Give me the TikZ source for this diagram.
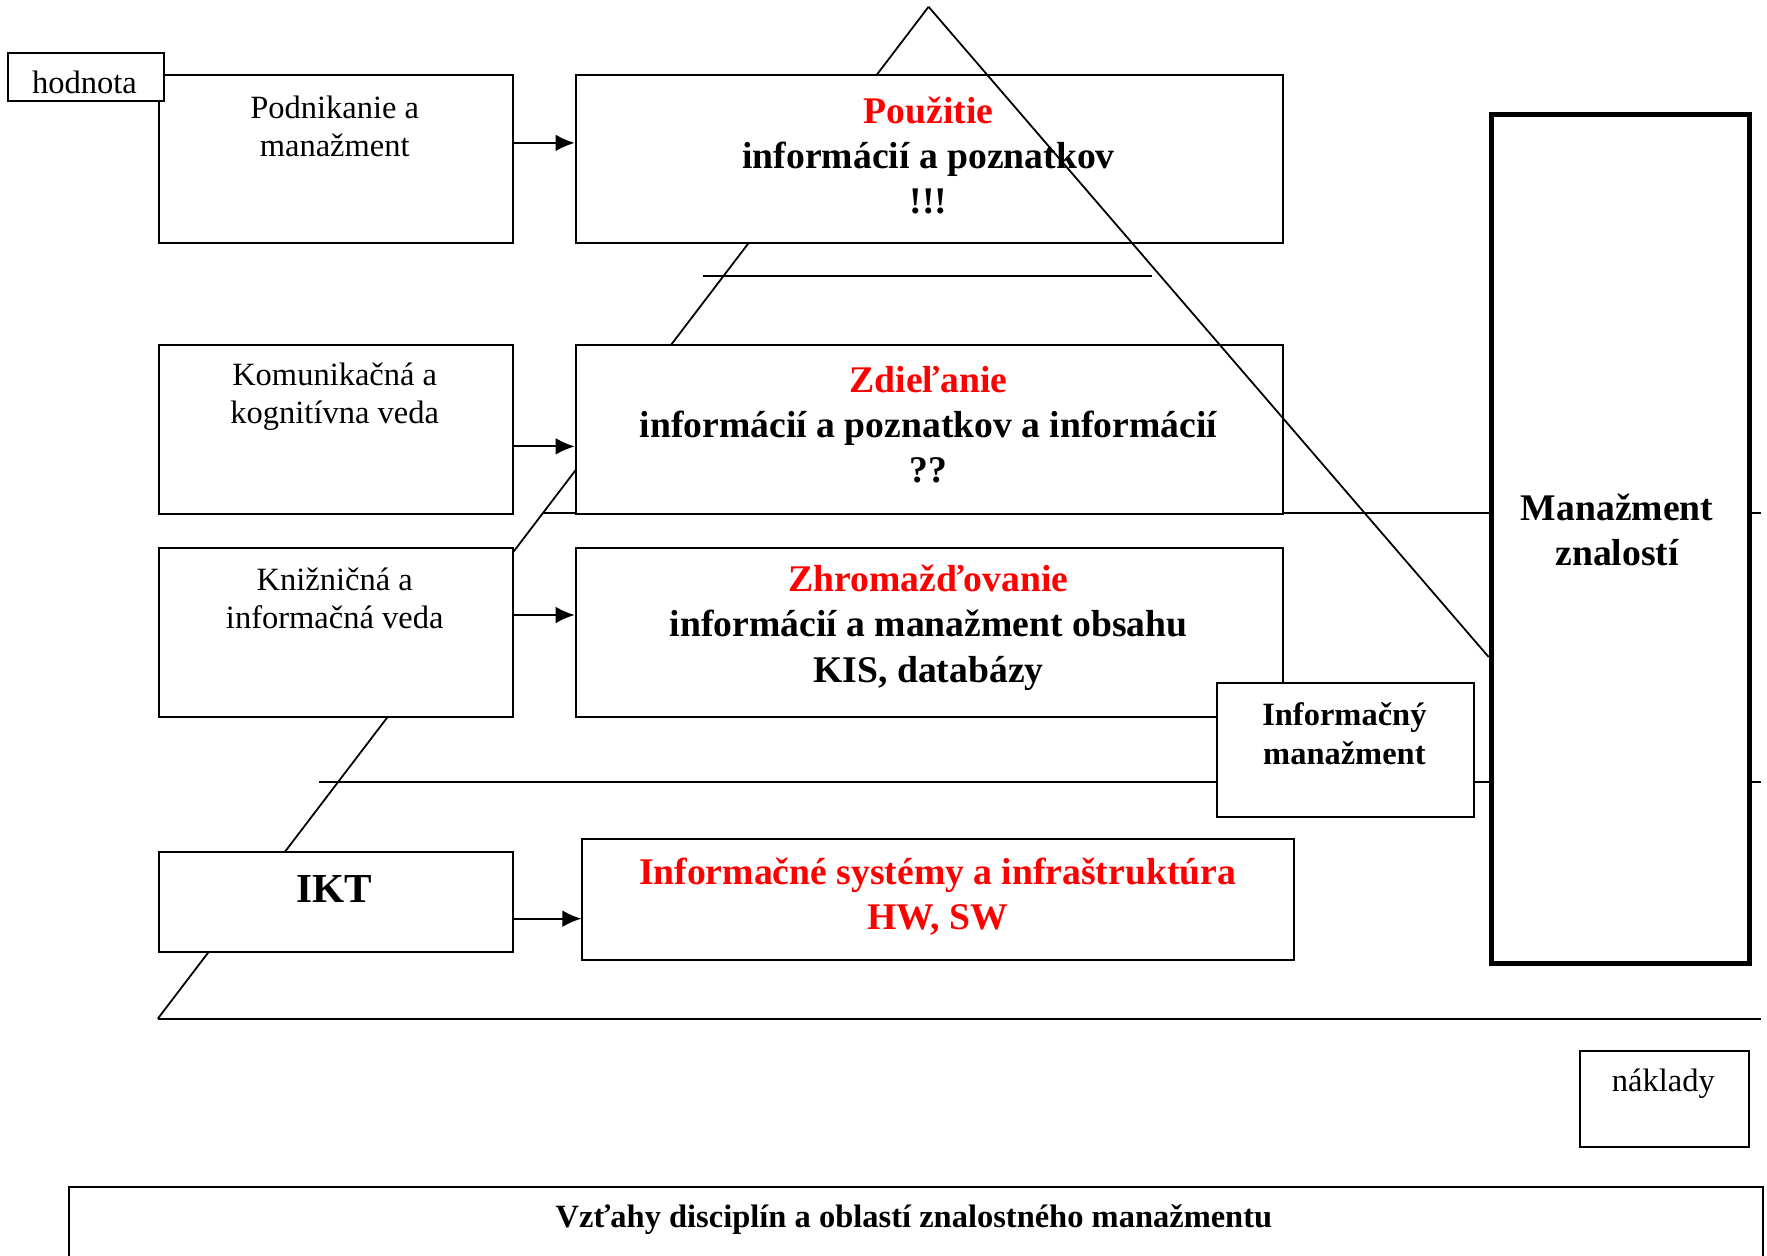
\documentclass[tikz,border=0pt]{standalone}
\usepackage{fontspec}
\setmainfont{Liberation Serif}
\usetikzlibrary{calc,arrows.meta}
\definecolor{myred}{RGB}{255,0,0}
\newcommand{\myreg}{\fontsize{8.2pt}{9.7pt}\selectfont}
\newcommand{\mybold}{\fontsize{9.5pt}{11.4pt}\selectfont\bfseries}
\newcommand{\mybig}{\fontsize{10.4pt}{12pt}\selectfont\bfseries}
\newcommand{\mysmb}{\fontsize{8.2pt}{9.7pt}\selectfont\bfseries}
\begin{document}
\begin{tikzpicture}[x=0.01cm,y=-0.01cm,
  box/.style={draw,line width=0.5pt,fill=white,inner sep=0pt,anchor=north west},
  thickbox/.style={box,line width=1.4pt},
  txt/.style={inner sep=0pt,align=center},
  edge/.style={line width=0.45pt},
  layer/.style={line width=0.5pt},
  arr/.style={line width=0.5pt,-{Latex[length=4.8pt,width=4.2pt]}}]
\useasboundingbox (0,0) rectangle (1568,1114);
% pyramid geometry
\coordinate (apex) at (824,6);
\coordinate (bl) at (140,904);
\coordinate (br) at (1563,904);
\coordinate (rend) at (1321,583);
\coordinate (l1a) at (624,245);
\coordinate (l1b) at (1022,245);
\coordinate (l2a) at (482,455);
\coordinate (l2b) at (1563,455);
\coordinate (l3a) at (283,694);
\coordinate (l3b) at (1563,694);
% left edge and layer lines (behind boxes)
\draw[edge] (apex) -- (bl);
\draw[layer] (l1a) -- (l1b);
\draw[layer] (l2a) -- (l2b);
\draw[layer] (l3a) -- (l3b);
\draw[layer] (bl) -- (br);
% boxes
\node[box,minimum width=3.14cm,minimum height=1.49cm] (pod) at (140,66) {};
\node[box,minimum width=1.39cm,minimum height=0.43cm] (hod) at (6,46) {};
\node[box,minimum width=6.27cm,minimum height=1.49cm] (pou) at (510,66) {};
\node[box,minimum width=3.14cm,minimum height=1.50cm] (kom) at (140,305) {};
\node[box,minimum width=6.27cm,minimum height=1.50cm] (zdi) at (510,305) {};
\node[box,minimum width=3.14cm,minimum height=1.50cm] (kni) at (140,485) {};
\node[box,minimum width=6.27cm,minimum height=1.50cm] (zhr) at (510,485) {};
\node[box,minimum width=3.14cm,minimum height=0.89cm] (ikt) at (140,755) {};
\node[box,minimum width=6.31cm,minimum height=1.07cm] (ifs) at (516,744) {};
\node[box,minimum width=1.50cm,minimum height=0.85cm] (nak) at (1401,932) {};
\node[box,minimum width=15.03cm,minimum height=3.00cm] (cap) at (60,1052) {};
% right edge (on top of the boxes)
\draw[edge] (apex) -- (rend);
% knowledge management and information management boxes
\node[thickbox,minimum width=2.29cm,minimum height=7.53cm] (mz) at (1321,99) {};
\node[box,minimum width=2.28cm,minimum height=1.19cm] (inm) at (1079,605) {};
% arrows
\coordinate (s1) at ($(pod.north east)!0.403!(pod.south east)$);
\coordinate (s2) at ($(kom.north east)!0.6!(kom.south east)$);
\coordinate (s3) at ($(kni.north east)!0.4!(kni.south east)$);
\coordinate (s4) at ($(ikt.north east)!0.663!(ikt.south east)$);
\draw[arr] (s1) -- (s1 -| pou.west);
\draw[arr] (s2) -- (s2 -| zdi.west);
\draw[arr] (s3) -- (s3 -| zhr.west);
\draw[arr] (s4) -- (s4 -| ifs.west);
% texts
\node[txt,font=\myreg] (thod) at (75,73) {hodnota};
\node[txt,font=\myreg] (tpod) at (297,112) {Podnikanie a\\manažment};
\node[txt,font=\mybold] (tpou) at (824,138) {{\color{myred}Použitie}\\informácií a poznatkov\\!!!};
\node[txt,font=\myreg] (tkom) at (297,352) {Komunikačná a\\kognitívna veda};
\node[txt,font=\mybold] (tzdi) at (824,377) {{\color{myred}Zdieľanie}\\informácií a poznatkov a informácií\\??};
\node[txt,font=\myreg] (tkni) at (297,531) {Knižničná a\\informačná veda};
\node[txt,font=\mybold] (tzhr) at (824,557) {{\color{myred}Zhromažďovanie}\\informácií a manažment obsahu\\KIS, databázy};
\node[txt,font=\mybig] (tikt) at (297,789) {IKT};
\node[txt,font=\mybold,text=myred] (tifs) at (832,796) {Informačné systémy a infraštruktúra\\HW, SW};
\node[txt,font=\mysmb] (tinm) at (1193,651) {Informačný\\manažment};
\node[txt,font=\mybold] (tmz) at (1435,470) {Manažment\\znalostí};
\node[txt,font=\myreg] (tnak) at (1476,962) {náklady};
\node[txt,font=\mysmb] (tcap) at (811,1082) {Vzťahy disciplín a oblastí znalostného manažmentu};
\end{tikzpicture}
\end{document}
